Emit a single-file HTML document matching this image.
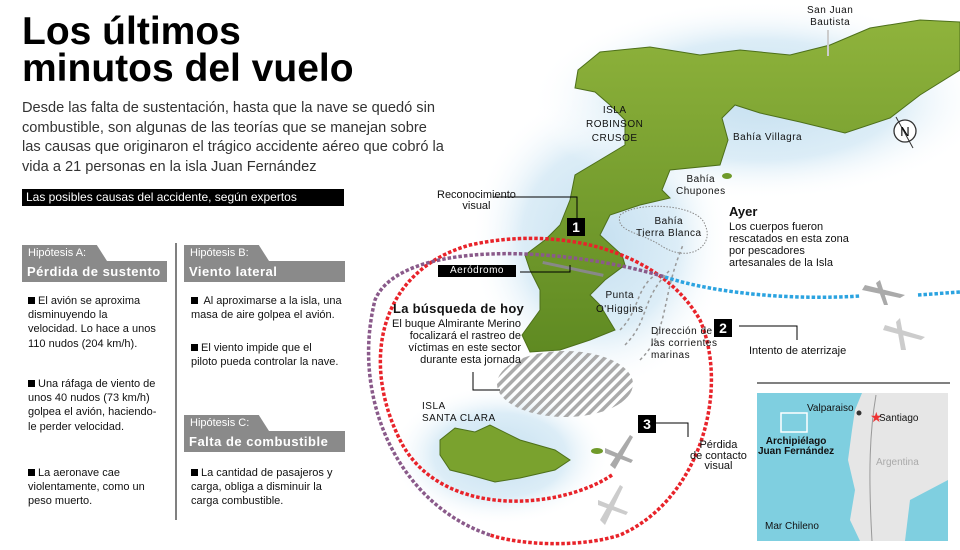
<!DOCTYPE html>
<html><head><meta charset="utf-8"><style>
body{margin:0;width:960px;height:550px;overflow:hidden;background:#fff;font-family:"Liberation Sans",sans-serif;position:relative}
.a{position:absolute;white-space:nowrap}
h1{position:absolute;left:22px;top:13px;margin:0;font-size:39px;line-height:37px;font-weight:bold;color:#000}
.p{left:22px;top:99px;font-size:14.6px;line-height:19.5px;color:#333}
.bar{left:22px;top:189px;width:322px;height:17px;background:#000;color:#fff;font-size:12px;line-height:17px;padding-left:4px;box-sizing:border-box}
.tab{position:absolute;height:16px;background:#8a8a8a;color:#fff;font-size:11px;line-height:16px;padding-left:6px;box-sizing:border-box;clip-path:polygon(0 0,88% 0,100% 100%,0 100%)}
.hd{position:absolute;height:21px;background:#8a8a8a;color:#fff;font-size:13px;font-weight:bold;line-height:21px;padding-left:5px;box-sizing:border-box;letter-spacing:.5px}
.t{position:absolute;font-size:11px;line-height:14.2px;color:#111;white-space:nowrap}
.sq{display:inline-block;width:7px;height:7px;background:#000;margin-right:3px}
.m{position:absolute;font-size:10px;line-height:12px;color:#111;white-space:nowrap;letter-spacing:.5px}
.num{position:absolute;width:18px;height:18px;background:#000;color:#fff;font-weight:bold;font-size:14px;line-height:18px;text-align:center}
</style></head><body>
<svg class="a" style="left:0;top:0" width="960" height="550">
<defs>
<radialGradient id="g" cx="50%" cy="50%" r="50%"><stop offset="0" stop-color="#c6e0f0"/><stop offset=".6" stop-color="#dcedf7"/><stop offset="1" stop-color="#fff" stop-opacity="0"/></radialGradient>
<pattern id="h" width="7" height="7" patternUnits="userSpaceOnUse" patternTransform="rotate(45)"><rect width="3.5" height="7" fill="#aaa"/></pattern>
<linearGradient id="gr" x1="0" y1="0" x2="0" y2="1"><stop offset="0" stop-color="#8fb33c"/><stop offset="1" stop-color="#5f8a22"/></linearGradient>
</defs>
<ellipse cx="600" cy="240" rx="130" ry="150" fill="url(#g)"/>
<ellipse cx="760" cy="100" rx="230" ry="100" fill="url(#g)"/>
<ellipse cx="500" cy="455" rx="110" ry="70" fill="url(#g)"/>
<path d="M575,88 L578,70 600,52 650,47 700,55 740,50 790,55 830,45 870,28 920,20 960,22 960,70 920,95 890,118 845,133 800,122 760,113 735,105 722,118 728,140 720,165 670,170 662,190 670,198 640,205 610,215 600,235 622,255 625,265 605,280 590,295 600,305 615,330 590,340 560,350 530,352 522,335 540,310 540,290 530,270 525,255 545,240 560,225 570,200 575,175 600,160 625,145 625,120 610,105 595,92Z" fill="url(#gr)" stroke="#4d6f1a" stroke-width="1"/>
<path d="M440,440 455,428 475,432 490,425 520,440 555,450 570,460 555,470 520,478 495,482 470,475 450,470 440,455Z" fill="#7aa22e" stroke="#4d6f1a"/>
<ellipse cx="597" cy="451" rx="6" ry="3" fill="#6f9a2a"/>
<ellipse cx="727" cy="176" rx="5" ry="3" fill="#6f9a2a"/>
<path d="M620,215 C640,200 700,205 705,225 C715,245 690,265 660,245 C640,232 615,232 620,215Z" fill="none" stroke="#888" stroke-dasharray="1.5,1.5"/>
<ellipse cx="565" cy="384" rx="68" ry="33" fill="url(#h)"/>
<rect x="543" y="261" width="62" height="3" fill="#888" transform="rotate(12 543 261)"/>
<path d="M612,475 C560,510 440,520 400,440 C360,360 380,270 470,245 C560,225 660,250 700,320 C730,390 700,500 620,535 C580,548 520,545 490,535" fill="none" stroke="#e8232a" stroke-width="3.5" stroke-dasharray="3.5,2"/>
<path d="M490,535 C400,505 350,400 375,300 C400,240 560,245 665,277" fill="none" stroke="#8a5a8a" stroke-width="3.5" stroke-dasharray="3.5,2"/>
<path d="M665,277 C720,295 800,300 860,296" fill="none" stroke="#2ba3e0" stroke-width="3.5" stroke-dasharray="3.5,2"/>
<path d="M918,295 L960,292" fill="none" stroke="#2ba3e0" stroke-width="3.5" stroke-dasharray="3.5,2"/>
<g stroke="#999" fill="none" stroke-width="1.5" stroke-dasharray="3,3">
<path d="M625,345 C650,320 640,300 670,270"/><path d="M640,360 C670,330 660,300 683,245"/><path d="M620,330 C640,310 635,290 655,275"/></g>
<g fill="#aaa"><path d="M865,285 l40,10 -5,3 -38,-8z M880,280 l8,25 -4,0 -8,-22z"/>
<path d="M885,325 l40,12 -4,3 -38,-10z M900,318 l6,32 -5,0 -5,-28z" fill="#ccc"/>
<path d="M610,465 l20,-30 3,2 -18,32z M605,448 l28,12 -2,3 -26,-10z"/>
<path d="M600,520 l20,-35 3,2 -18,38z M598,500 l30,12 -2,3 -28,-10z" fill="#ccc"/></g>
<g stroke="#000" fill="none" stroke-width="1"><path d="M493,197 H577 V218"/><path d="M520,272 H570 V265"/><path d="M739,326 H797 V340"/><path d="M655,423 H688 V437"/><path d="M473,372 V390 H500"/><line x1="757" y1="383" x2="950" y2="383"/><line x1="176" y1="243" x2="176" y2="520"/></g>
<line x1="828" y1="30" x2="828" y2="56" stroke="#ccc" stroke-width="2"/>
<circle cx="905" cy="131" r="11" fill="#fff" stroke="#333" stroke-width="1.3"/><path d="M896,117 L913,148" stroke="#333"/>
<text x="905" y="136" font-size="13" text-anchor="middle" font-family="Liberation Sans">N</text>
<rect x="757" y="393" width="191" height="148" fill="#7fcfe0"/>
<path d="M862,393 L948,393 948,541 860,541 850,520 855,490 848,460 852,430 855,410Z" fill="#e6e6e6"/>
<path d="M910,500 L948,480 948,541 905,541Z" fill="#7fcfe0"/>
<path d="M876,395 C870,430 868,470 872,541" stroke="#999" fill="none"/>
<rect x="781" y="413" width="26" height="19" fill="none" stroke="#fff" stroke-width="1.5"/>
<circle cx="859" cy="413" r="2.5" fill="#333"/>
<text x="870" y="422" fill="#e33" font-size="14">★</text>
</svg>
<h1>Los últimos<br>minutos del vuelo</h1>
<div class="a p">Desde las falta de sustentación, hasta que la nave se quedó sin<br>combustible, son algunas de las teorías que se manejan sobre<br>las causas que originaron el trágico accidente aéreo que cobró la<br>vida a 21 personas en la isla Juan Fernández</div>
<div class="a bar">Las posibles causas del accidente, según expertos</div>
<div class="tab" style="left:22px;top:245px;width:85px">Hipótesis A:</div>
<div class="hd" style="left:22px;top:261px;width:145px">Pérdida de sustento</div>
<div class="tab" style="left:184px;top:245px;width:85px">Hipótesis B:</div>
<div class="hd" style="left:184px;top:261px;width:161px">Viento lateral</div>
<div class="tab" style="left:184px;top:415px;width:85px">Hipótesis C:</div>
<div class="hd" style="left:184px;top:431px;width:161px">Falta de combustible</div>
<div class="t" style="left:28px;top:294px"><span class="sq"></span>El avión se aproxima<br>disminuyendo la<br>velocidad. Lo hace a unos<br>110 nudos (204 km/h).</div>
<div class="t" style="left:28px;top:377px"><span class="sq"></span>Una ráfaga de viento de<br>unos 40 nudos (73 km/h)<br>golpea el avión, haciendo-<br>le perder velocidad.</div>
<div class="t" style="left:28px;top:466px"><span class="sq"></span>La aeronave cae<br>violentamente, como un<br>peso muerto.</div>
<div class="t" style="left:191px;top:294px"><span class="sq"></span> Al aproximarse a la isla, una<br>masa de aire golpea el avión.</div>
<div class="t" style="left:191px;top:341px"><span class="sq"></span>El viento impide que el<br>piloto pueda controlar la nave.</div>
<div class="t" style="left:191px;top:466px"><span class="sq"></span>La cantidad de pasajeros y<br>carga, obliga a disminuir la<br>carga combustible.</div>
<div class="m" style="left:807px;top:5px;text-align:center">San Juan<br>Bautista</div>
<div class="m" style="left:586px;top:104px;text-align:center;line-height:14px">ISLA<br>ROBINSON<br>CRUSOE</div>
<div class="m" style="left:733px;top:132px">Bahía Villagra</div>
<div class="m" style="left:676px;top:174px;text-align:center">Bahía<br>Chupones</div>
<div class="m" style="left:636px;top:216px;text-align:center">Bahía<br>Tierra Blanca</div>
<div class="t" style="left:729px;top:205px;font-size:13px;font-weight:bold">Ayer</div>
<div class="t" style="left:729px;top:221px;line-height:12px">Los cuerpos fueron<br>rescatados en esta zona<br>por pescadores<br>artesanales de la Isla</div>
<div class="t" style="left:437px;top:190px;text-align:center;line-height:11px">Reconocimiento<br>visual</div>
<div class="num" style="left:567px;top:218px">1</div>
<div class="a" style="left:438px;top:265px;width:78px;height:12px;background:#000;color:#fff;font-size:10px;line-height:12px;text-align:center;letter-spacing:.5px">Aeródromo</div>
<div class="m" style="left:596px;top:289px;text-align:center;line-height:14px">Punta<br>O'Higgins</div>
<div class="t" style="left:393px;top:302px;font-size:13px;font-weight:bold;letter-spacing:.3px">La búsqueda de hoy</div>
<div class="t" style="left:392px;top:318px;text-align:right;line-height:12px">El buque Almirante Merino<br>focalizará el rastreo de<br>víctimas en este sector<br>durante esta jornada</div>
<div class="m" style="left:651px;top:326px">Dirección de<br>las corrientes<br>marinas</div>
<div class="num" style="left:714px;top:319px">2</div>
<div class="t" style="left:749px;top:344px">Intento de aterrizaje</div>
<div class="m" style="left:422px;top:401px;line-height:12px">ISLA<br>SANTA CLARA</div>
<div class="num" style="left:638px;top:415px">3</div>
<div class="t" style="left:690px;top:440px;text-align:center;line-height:10.5px">Pérdida<br>de contacto<br>visual</div>
<div class="t" style="left:807px;top:402px;font-size:10px">Valparaiso</div>
<div class="t" style="left:879px;top:412px;font-size:10px">Santiago</div>
<div class="t" style="left:758px;top:437px;font-size:10px;font-weight:bold;text-align:center;line-height:10px">Archipiélago<br>Juan Fernández</div>
<div class="t" style="left:876px;top:456px;font-size:10px;color:#aaa">Argentina</div>
<div class="t" style="left:765px;top:520px;font-size:10px">Mar Chileno</div>
</body></html>
